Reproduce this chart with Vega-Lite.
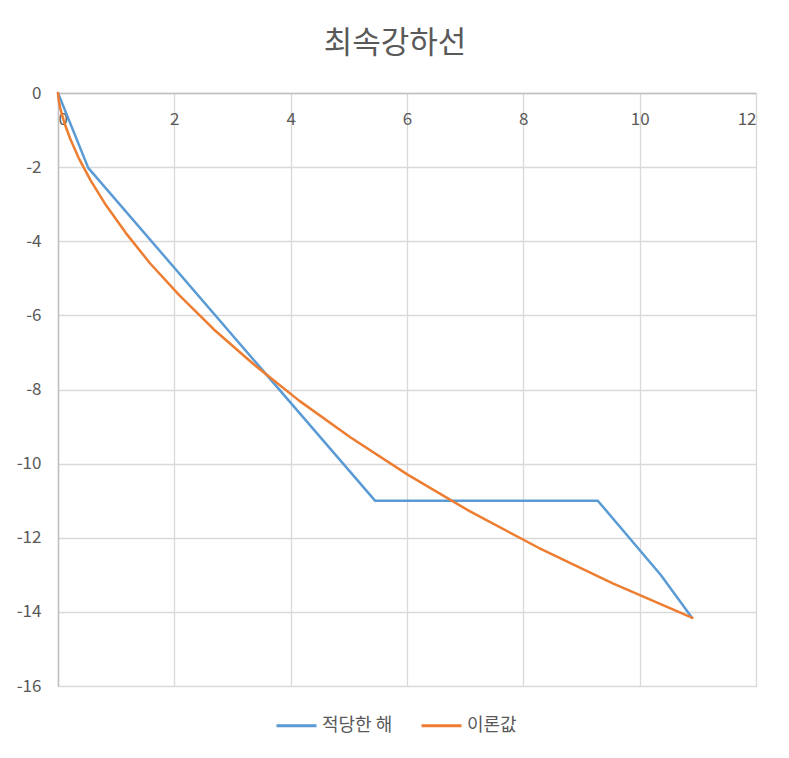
{
  "$schema": "https://vega.github.io/schema/vega-lite/v6.json",
  "width": 698,
  "height": 593,
  "autosize": {"type": "none"},
  "padding": {"left": 58, "top": 93, "right": 33, "bottom": 72},
  "background": "white",
  "title": {
    "text": "최속강하선",
    "fontSize": 31,
    "font": "Noto Sans CJK KR",
    "fontWeight": "normal",
    "color": "#595959",
    "offset": 24,
    "dx": -12
  },
  "data": {
    "values": [
      {"series": "적당한 해", "x": 0, "y": 0},
      {"series": "적당한 해", "x": 0.52, "y": -2.02},
      {"series": "적당한 해", "x": 5.45, "y": -11.0},
      {"series": "적당한 해", "x": 9.28, "y": -11.0},
      {"series": "적당한 해", "x": 10.36, "y": -13.0},
      {"series": "적당한 해", "x": 10.9, "y": -14.16},
      {"series": "이론값", "x": 0, "y": 0},
      {"series": "이론값", "x": 0.002, "y": -0.05},
      {"series": "이론값", "x": 0.013, "y": -0.2},
      {"series": "이론값", "x": 0.045, "y": -0.45},
      {"series": "이론값", "x": 0.106, "y": -0.79},
      {"series": "이론값", "x": 0.206, "y": -1.22},
      {"series": "이론값", "x": 0.354, "y": -1.75},
      {"series": "이론값", "x": 0.558, "y": -2.35},
      {"series": "이론값", "x": 0.826, "y": -3.03},
      {"series": "이론값", "x": 1.167, "y": -3.78},
      {"series": "이론값", "x": 1.585, "y": -4.6},
      {"series": "이론값", "x": 2.088, "y": -5.46},
      {"series": "이론값", "x": 2.68, "y": -6.38},
      {"series": "이론값", "x": 3.364, "y": -7.32},
      {"series": "이론값", "x": 4.145, "y": -8.3},
      {"series": "이론값", "x": 5.025, "y": -9.29},
      {"series": "이론값", "x": 6.004, "y": -10.29},
      {"series": "이론값", "x": 7.084, "y": -11.29},
      {"series": "이론값", "x": 8.262, "y": -12.27},
      {"series": "이론값", "x": 9.537, "y": -13.23},
      {"series": "이론값", "x": 10.907, "y": -14.16}
    ]
  },
  "mark": {"type": "line", "strokeWidth": 2.5, "strokeCap": "round", "strokeJoin": "round"},
  "encoding": {
    "x": {
      "field": "x",
      "type": "quantitative",
      "scale": {"domain": [0, 12], "nice": false},
      "axis": {
        "title": null,
        "orient": "bottom",
        "offset": -593,
        "values": [0, 2, 4, 6, 8, 10, 12],
        "ticks": false,
        "labelPadding": 18,
        "labelFont": "Noto Sans CJK KR",
        "labelFontSize": 17,
        "labelColor": "#595959",
        "gridColor": "#D9D9D9",
        "gridWidth": 1.3,
        "domainColor": "#BFBFBF",
        "domainWidth": 1.5
      }
    },
    "y": {
      "field": "y",
      "type": "quantitative",
      "scale": {"domain": [-16, 0], "nice": false},
      "axis": {
        "title": null,
        "values": [0, -2, -4, -6, -8, -10, -12, -14, -16],
        "labelExpr": "toString(datum.value)",
        "ticks": false,
        "labelPadding": 17,
        "labelFont": "Noto Sans CJK KR",
        "labelFontSize": 17,
        "labelColor": "#595959",
        "gridColor": "#D9D9D9",
        "gridWidth": 1.3,
        "domainColor": "#BFBFBF",
        "domainWidth": 1.5
      }
    },
    "color": {
      "field": "series",
      "type": "nominal",
      "scale": {"domain": ["적당한 해", "이론값"], "range": ["#5B9BD5", "#ED7D31"]},
      "legend": {
        "title": null,
        "orient": "none",
        "legendX": 217,
        "legendY": 611,
        "direction": "horizontal",
        "symbolType": "stroke",
        "symbolSize": 1600,
        "symbolStrokeWidth": 3,
        "labelFontSize": 18,
        "labelFont": "Noto Sans CJK KR",
        "labelColor": "#595959",
        "columnPadding": 22
      }
    }
  },
  "config": {
    "view": {"stroke": "#D9D9D9"}
  }
}
